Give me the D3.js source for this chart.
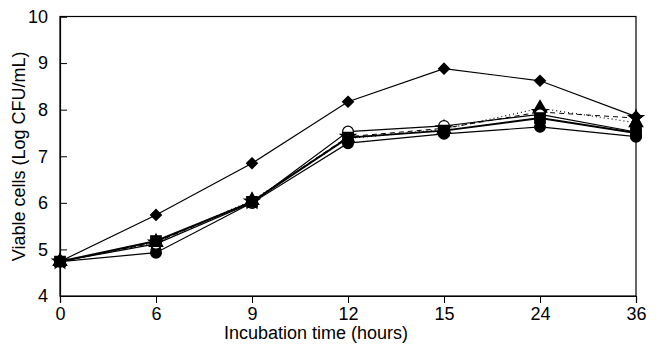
<!DOCTYPE html>
<html>
<head>
<meta charset="utf-8">
<script src="https://cdn.jsdelivr.net/npm/d3@7"></script>
<style>
body { margin: 0; background: #fff; }
text { font-family: "Liberation Sans", Arial, sans-serif; }
</style>
</head>
<body>
<script>
const width = 662;
const height = 345;

// data
const hours = ['0', '6', '9', '12', '15', '24', '36'];
const yTicks = [4, 5, 6, 7, 8, 9, 10];
const diamondSeries = [4.74, 5.74, 6.85, 8.17, 8.88, 8.62, 7.85];
const openCircleSeries = [4.74, 5.12, 6.0, 7.53, 7.65, 7.9, 7.52];
const filledCircleSeries = [4.74, 4.93, 6.0, 7.28, 7.48, 7.63, 7.42];
const squareSeries = [4.74, 5.18, 6.02, 7.4, 7.55, 7.82, 7.5];
const triangleSeries = [4.74, 5.15, 6.05, 7.38, 7.58, 8.03, 7.72];
const starSeries = [4.74, 5.15, 6.03, 7.42, 7.6, 7.95, 7.82];

// diamond = square turned 45 degrees
const diamond = {
    draw(ctx, size) {
        const r = Math.sqrt(size / 2);
        ctx.moveTo(0, -r); ctx.lineTo(r, 0); ctx.lineTo(0, r); ctx.lineTo(-r, 0); ctx.closePath();
    }
};

const series = [
    {values: starSeries, symbol: d3.symbolStar, fill: '#000', dash: '5,4', sw: 1, size: 70},
    {values: triangleSeries, symbol: d3.symbolTriangle, fill: '#000', dash: '1,3', sw: 1.2, size: 80},
    {values: filledCircleSeries, symbol: d3.symbolCircle, fill: '#000', dash: null, sw: 1.2, size: 90},
    {values: openCircleSeries, symbol: d3.symbolCircle, fill: '#fff', dash: null, sw: 1.2, size: 90},
    {values: squareSeries, symbol: d3.symbolSquare, fill: '#000', dash: null, sw: 2, size: 110},
    {values: diamondSeries, symbol: diamond, fill: '#000', dash: null, sw: 1.2, size: 60}
];

const margin = {left: 60, right: 26, top: 16.5, bottom: 49};

const svg = d3.select('body').append('svg').attr('width', width).attr('height', height);

const x = d3.scalePoint().domain(hours).range([margin.left, width - margin.right]);
const y = d3.scaleLinear().domain([4, 10]).range([height - margin.bottom, margin.top]);

// frame
svg.append('rect')
    .attr('x', margin.left).attr('y', margin.top)
    .attr('width', width - margin.right - margin.left)
    .attr('height', height - margin.bottom - margin.top)
    .attr('fill', 'none').attr('stroke', '#000').attr('stroke-width', 1.2);

const xAxis = svg.append('g')
    .attr('transform', `translate(0,${height - margin.bottom})`)
    .call(d3.axisBottom(x).tickSize(7).tickPadding(4));
xAxis.select('.domain').attr('stroke-width', 1.2);
xAxis.selectAll('text').attr('font-size', 18).attr('fill', '#000').style('font-family', '"Liberation Sans", Arial, sans-serif');

const yAxis = svg.append('g')
    .attr('transform', `translate(${margin.left},0)`)
    .call(d3.axisLeft(y).tickValues(yTicks).tickFormat(d3.format('d')).tickSize(-7).tickPadding(12));
yAxis.select('.domain').attr('stroke-width', 1.2);
yAxis.selectAll('text').attr('font-size', 18).attr('fill', '#000').style('font-family', '"Liberation Sans", Arial, sans-serif');

svg.append('text')
    .attr('x', 316)
    .attr('y', 339)
    .attr('text-anchor', 'middle')
    .attr('font-size', 18)
    .text('Incubation time (hours)');

svg.append('text')
    .attr('transform', `translate(25,${(margin.top + height - margin.bottom) / 2}) rotate(-90)`)
    .attr('text-anchor', 'middle')
    .attr('font-size', 18)
    .text('Viable cells (Log CFU/mL)');

const line = d3.line().x((d, i) => x(hours[i])).y(d => y(d));

series.forEach(s => {
    svg.append('path')
        .attr('d', line(s.values))
        .attr('fill', 'none')
        .attr('stroke', '#000')
        .attr('stroke-width', s.sw)
        .attr('stroke-dasharray', s.dash);
});

series.forEach(s => {
    svg.selectAll(null)
        .data(s.values)
        .enter()
        .append('path')
        .attr('transform', (d, i) => `translate(${x(hours[i])},${y(d)})`)
        .attr('d', d3.symbol(s.symbol, s.size))
        .attr('fill', s.fill)
        .attr('stroke', '#000')
        .attr('stroke-width', 1.2);
});
</script>
</body>
</html>
